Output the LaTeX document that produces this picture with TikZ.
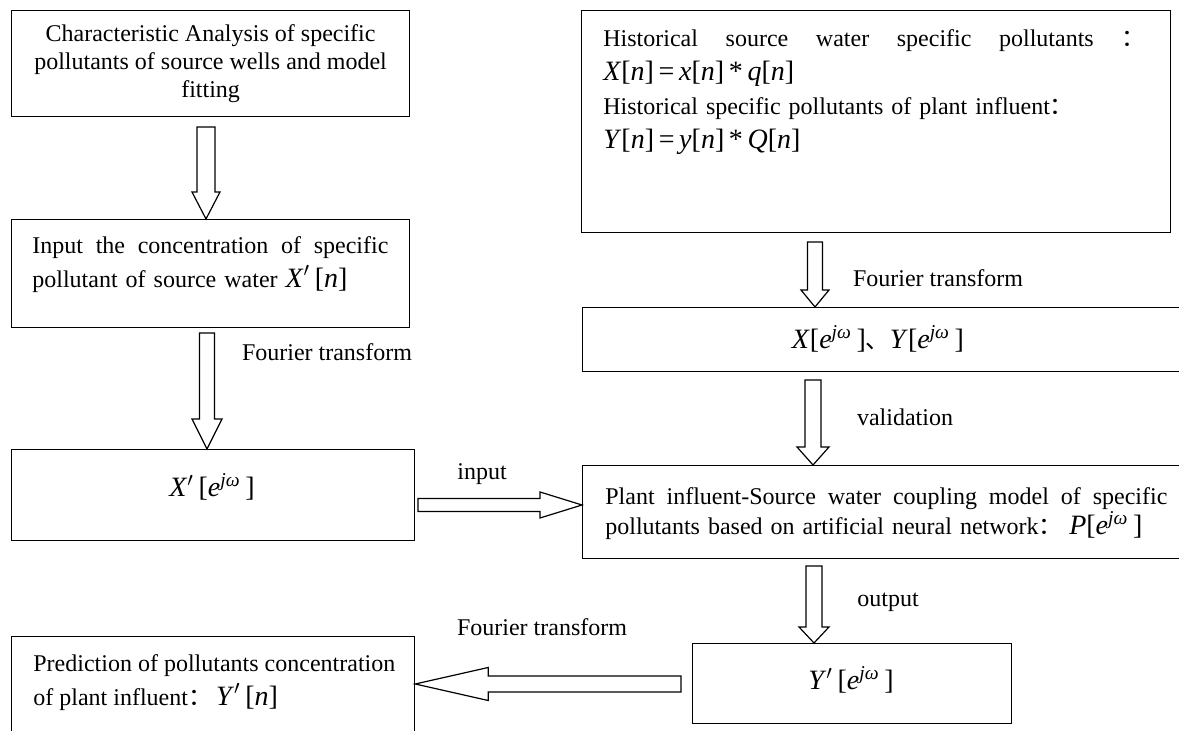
\documentclass[tikz,border=0pt]{standalone}
\usepackage{fontspec}
\setmainfont{Liberation Serif}
\newfontfamily\cjk{Noto Sans CJK SC}
\usetikzlibrary{calc}

\tikzset{
  box/.style={draw,line width=0.6pt,inner sep=0pt,anchor=north west},
  txt/.style={font=\fontsize{12}{14}\selectfont,inner sep=0pt},
  blk/.style={draw,line width=0.6pt,line join=miter},
}
% hollow block arrow: start, tip, half shaft, half head, head length
\newcommand{\hollow}[5]{%
  \coordinate (hb) at ($(#2)!#5!(#1)$);
  \draw[blk] ($(#1)!#3!90:(#2)$) -- ($(hb)!#3!-90:(#1)$) -- ($(hb)!#4!-90:(#1)$)
    -- (#2) -- ($(hb)!#4!90:(#1)$) -- ($(hb)!#3!90:(#1)$) -- ($(#1)!#3!-90:(#2)$) -- cycle;
}
\newcommand{\vi}[1]{\textit{#1}}
\newcommand{\fw}[1]{{\cjk #1}}
\newcommand{\fm}[1]{{\fontsize{14}{14}\selectfont #1}}
\newcommand{\pr}{\textsuperscript{$\prime$}}
\newcommand{\ejw}{[\vi{e}\textsuperscript{\vi{jω}}\,]}

\begin{document}
\begin{tikzpicture}[x=0.5pt,y=-0.5pt]
\useasboundingbox (0,0) rectangle (1179,731);
\clip (0,0) rectangle (1179,731);

%左の列
\node[box,minimum width=199pt,minimum height=53pt] (b1) at (11,10) {};
\node[txt,align=center] (t1) at (b1.center) {Characteristic Analysis of specific\\pollutants of source wells and model\\fitting};

\node[box,minimum width=199pt,minimum height=54pt] (b2) at (11,219) {};
\node[txt,anchor=north west,text width=178pt,align=left] (t2) at (32,236)
  {\hbox to 178pt{Input\hfill the\hfill concentration\hfill of\hfill specific}\\[3pt]
   pollutant of source water \fm{\vi{X}\pr\,[\vi{n}]}};

\node[box,minimum width=201.5pt,minimum height=45.5pt] (b3) at (11,449) {};
\node[txt] (t3) at (212,487) {\fm{\vi{X}\pr\,\ejw}};

\node[box,minimum width=201.5pt,minimum height=60pt] (b8) at (11,636) {};
\node[txt,anchor=north west,align=left] (t8) at (33,654)
  {Prediction of pollutants concentration\\[3pt]
   of plant influent\fw{：}\,\fm{\vi{Y}\pr\,[\vi{n}]}};

%右の列
\node[box,minimum width=294.5pt,minimum height=111pt] (b5) at (581,10) {};
\node[txt,anchor=north west,text width=271pt,align=left] (t5) at (603,29)
  {\hbox to 271pt{Historical\hfill source\hfill water\hfill specific\hfill pollutants\hfill\fw{：}}\\[3pt]
   \fm{\vi{X}[\vi{n}]\,=\,\vi{x}[\vi{n}]\,*\,\vi{q}[\vi{n}]}\\[3pt]
   Historical specific pollutants of plant influent\fw{：}\\[3pt]
   \fm{\vi{Y}[\vi{n}]\,=\,\vi{y}[\vi{n}]\,*\,\vi{Q}[\vi{n}]}};

\node[box,minimum width=302pt,minimum height=32pt] (b6) at (582,307) {};
\node[txt] (t6) at (878,339) {\fm{\vi{X}\ejw}\fw{、}\fm{\vi{Y}\ejw}};

\node[box,minimum width=302pt,minimum height=46.5pt] (b4) at (582,465) {};
\node[txt,anchor=north west,text width=281pt,align=left] (t4) at (605,487)
  {\hbox to 281pt{Plant\hfill influent-Source\hfill water\hfill coupling\hfill model\hfill of\hfill specific}\\
   pollutants based on artificial neural network\fw{：}\;\fm{\vi{P}\ejw}};

\node[box,minimum width=159.5pt,minimum height=40pt] (b7) at (692,643) {};
\node[txt] (t7) at (851,680) {\fm{\vi{Y}\pr\,\ejw}};

%矢印
\coordinate (a1) at (206,127);
\hollow{a1}{b2.north -| a1}{4.5pt}{7pt}{13.5pt}
\coordinate (a2) at (207,333);
\hollow{a2}{b3.north -| a2}{3.75pt}{7.5pt}{15pt}
\coordinate (a3) at (418,505);
\hollow{a3}{b4.west |- a3}{3.25pt}{6.5pt}{21pt}
\coordinate (a4) at (815,242);
\hollow{a4}{b6.north -| a4}{3.75pt}{7pt}{8.5pt}
\coordinate (a5) at (813,380);
\hollow{a5}{b4.north -| a5}{4pt}{8pt}{9pt}
\coordinate (a6) at (814,566);
\hollow{a6}{b7.north -| a6}{4pt}{7.5pt}{8pt}
\coordinate (a7) at (681,684);
\hollow{a7}{b8.east |- a7}{4pt}{8.25pt}{36.5pt}

%ラベル
\node[txt] (l1) at (327,352) {Fourier transform};
\node[txt] (l2) at (482,474) {input};
\node[txt] (l3) at (938,278) {Fourier transform};
\node[txt] (l4) at (905,417) {validation};
\node[txt] (l5) at (888,602) {output};
\node[txt] (l6) at (542,627) {Fourier transform};

\end{tikzpicture}
\end{document}
